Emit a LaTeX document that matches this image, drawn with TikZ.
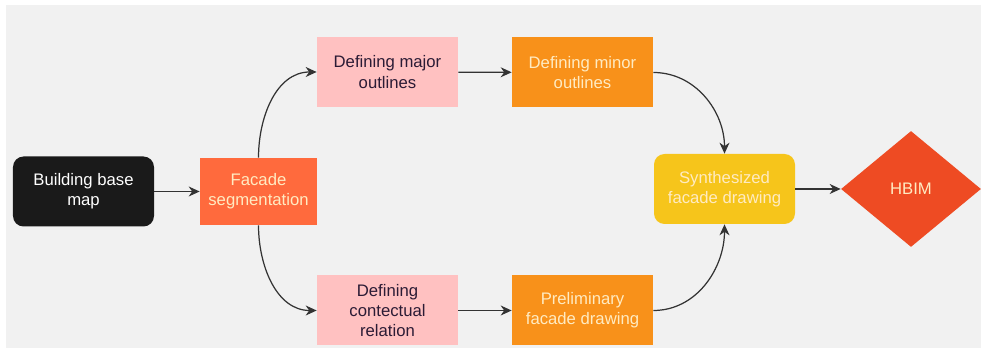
\documentclass[tikz,border=0pt]{standalone}
\usepackage{fontspec}
\setmainfont{Liberation Sans}
\usetikzlibrary{shapes.geometric, arrows.meta, positioning}
\definecolor{canvas}{HTML}{F1F1F1}
\definecolor{basefill}{HTML}{1A1A1A}
\definecolor{segfill}{HTML}{FF6A3D}
\definecolor{pinkfill}{HTML}{FFC1C1}
\definecolor{orangefill}{HTML}{F8911A}
\definecolor{synthfill}{HTML}{F6C51B}
\definecolor{bimfill}{HTML}{EE4B23}
\definecolor{darktext}{HTML}{2B1B35}
\definecolor{palertext}{HTML}{FFEBC2}
\definecolor{arrowgray}{HTML}{333333}
\tikzset{
    stage/.style={
        rectangle, draw=none, align=center,
        minimum width=2.82cm, minimum height=1.4cm,
        inner sep=2pt, font=\fontsize{9.5}{11.5}\selectfont
    },
    start/.style={stage, rounded corners=6pt, fill=basefill, text=white},
    segment/.style={stage, fill=segfill, text=palertext,
        minimum width=2.34cm, minimum height=1.34cm},
    rough/.style={stage, fill=pinkfill, text=darktext},
    fine/.style={stage, fill=orangefill, text=palertext},
    merged/.style={stage, rounded corners=6pt, fill=synthfill, text=palertext},
    result/.style={
        diamond, fill=bimfill, text=palertext, inner sep=0pt,
        minimum width=2.8cm, minimum height=2.32cm,
        font=\fontsize{9.5}{11.5}\selectfont
    },
    flow/.style={draw=arrowgray, line width=0.7pt, -{Stealth[length=2.2mm,width=2mm]}}
}
\begin{document}
\begin{tikzpicture}

% Canvas
\useasboundingbox (0,0) rectangle (19.74,7.14);
\fill[canvas] (0.12,0.18) rectangle (19.62,7.04);

% Input
\node[start] (base) at (1.67,3.31) {Building base\\map};
\node[segment] (seg) at (5.17,3.31) {Facade\\segmentation};

\draw[flow] (base) -- (seg);

% Upper branch
\node[rough] (major) at (7.75,5.70) {Defining major\\outlines};
\node[fine] (minor) at (11.65,5.69) {Defining minor\\outlines};

\draw[flow] (seg.north) to[out=90, in=180] (major.west);
\draw[flow] (major) -- (minor);

% Lower branch
\node[rough] (context) at (7.75,0.93) {Defining\\contectual\\relation};
\node[fine] (prelim) at (11.65,0.93) {Preliminary\\facade drawing};

\draw[flow] (seg.south) to[out=-90, in=180] (context.west);
\draw[flow] (context) -- (prelim);

% Merge
\node[merged] (synth) at (14.49,3.36) {Synthesized\\facade drawing};
\node[result] (hbim) at (18.22,3.36) {HBIM};

\draw[flow] (minor.east) to[out=0, in=90] (synth.north);
\draw[flow] (prelim.east) to[out=0, in=-90] (synth.south);
\draw[flow] (synth) -- (hbim);

\end{tikzpicture}
\end{document}
